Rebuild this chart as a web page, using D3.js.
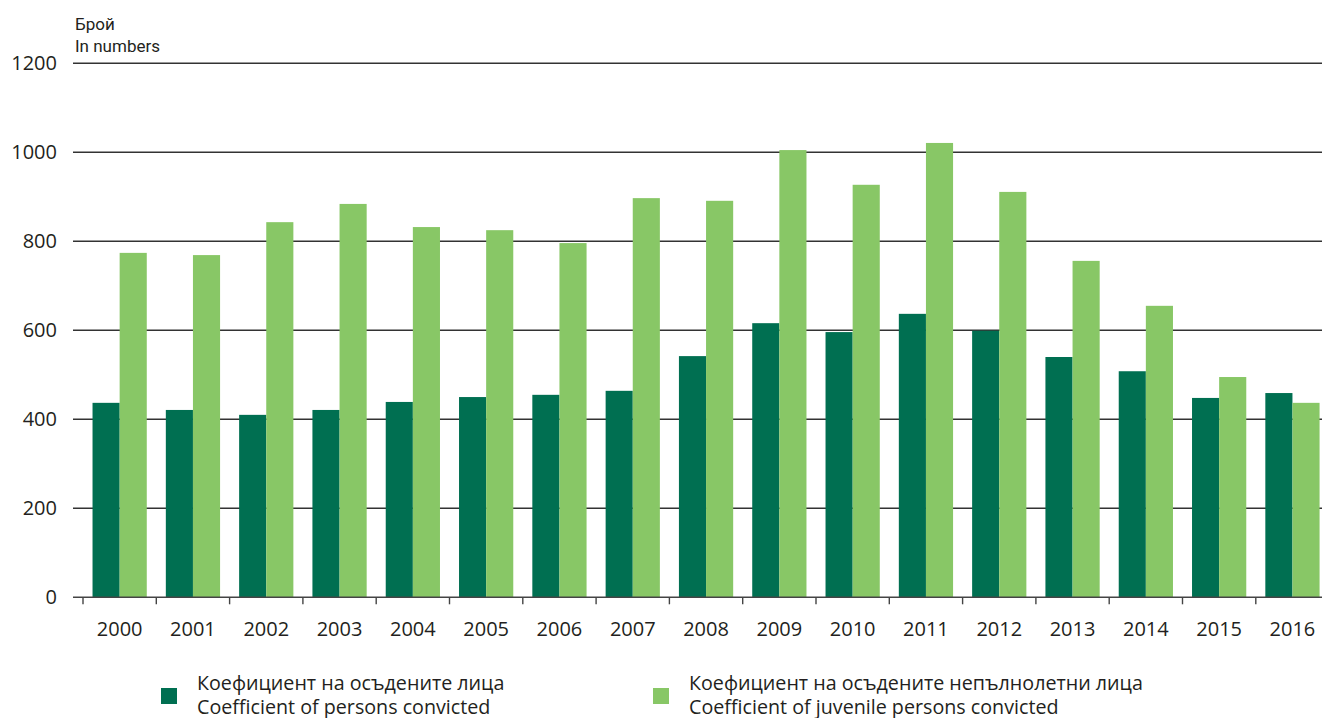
<!DOCTYPE html>
<html lang="bg">
<head>
  <meta charset="UTF-8">
  <title>Коефициент на осъдените лица</title>
  <style>
    body {
      margin: 0;
      background-color: white;
      font-family: "Open Sans", sans-serif;
    }

    .grid line {
      stroke: #333;
      stroke-width: 1.4;
    }

    .tick-label {
      font-size: 20px;
      fill: #231f20;
    }

    .unit {
      font-family: Roboto, sans-serif;
      font-size: 17px;
      fill: #231f20;
    }

    .legend-text {
      font-size: 19.7px;
      fill: #231f20;
    }
  </style>
</head>
<body>
  <svg id="chart" width="1322" height="718"></svg>

  <script src="https://d3js.org/d3.v7.min.js"></script>
  <script>
    var years = ["2000", "2001", "2002", "2003", "2004", "2005", "2006", "2007", "2008",
                 "2009", "2010", "2011", "2012", "2013", "2014", "2015", "2016"];
    var convicted = [437, 421, 410, 421, 439, 450, 455, 464, 542, 616, 596, 637, 599, 540, 508, 448, 459];
    var juvenile = [774, 769, 843, 884, 832, 825, 796, 897, 891, 1005, 927, 1021, 911, 756, 655, 495, 437];
    var yTicks = [0, 200, 400, 600, 800, 1000, 1200];
    var seriesNames = [
      ["Коефициент на осъдените лица", "Coefficient of persons convicted"],
      ["Коефициент на осъдените непълнолетни лица", "Coefficient of juvenile persons convicted"]
    ];
    var colors = ["#006f51", "#88c766"];

    var chart = d3.select("#chart");

    var left = 83, step = 73.3, axisLeft = 73;

    var x = d3.scaleBand()
      .domain(years)
      .range([left, left + step * years.length])
      .paddingInner(0.26)
      .paddingOuter(0.13);

    var inner = d3.scaleBand()
      .domain([0, 1])
      .range([0, x.bandwidth()]);

    var y = d3.scaleLinear()
      .domain([0, 1200])
      .range([597.3, 63.3]);

    // gridlines
    chart.append("g")
      .attr("class", "grid")
      .selectAll("line")
      .data(yTicks.filter(function(d) { return d > 0; }))
      .enter().append("line")
      .attr("x1", axisLeft)
      .attr("x2", 1322)
      .attr("y1", function(d) { return y(d); })
      .attr("y2", function(d) { return y(d); });

    // y labels
    chart.selectAll(".ylab")
      .data(yTicks)
      .enter().append("text")
      .attr("class", "tick-label ylab")
      .attr("x", 57)
      .attr("y", function(d) { return y(d) + 7; })
      .attr("text-anchor", "end")
      .text(function(d) { return d; });

    // bars
    var groups = chart.selectAll(".year")
      .data(years)
      .enter().append("g")
      .attr("class", "year")
      .attr("transform", function(d) { return "translate(" + x(d) + ",0)"; });

    groups.append("rect")
      .attr("x", inner(0))
      .attr("width", inner.bandwidth())
      .attr("y", function(d, i) { return y(convicted[i]); })
      .attr("height", function(d, i) { return y(0) - y(convicted[i]); })
      .attr("fill", colors[0]);

    groups.append("rect")
      .attr("x", inner(1))
      .attr("width", inner.bandwidth())
      .attr("y", function(d, i) { return y(juvenile[i]); })
      .attr("height", function(d, i) { return y(0) - y(juvenile[i]); })
      .attr("fill", colors[1]);

    // x axis line and boundary ticks
    chart.append("line")
      .attr("x1", axisLeft)
      .attr("x2", 1322)
      .attr("y1", y(0))
      .attr("y2", y(0))
      .attr("stroke", "#444")
      .attr("stroke-width", 1.4);

    chart.selectAll(".xtick")
      .data(years)
      .enter().append("line")
      .attr("class", "xtick")
      .attr("x1", function(d) { return x(d) - x.step() * 0.13; })
      .attr("x2", function(d) { return x(d) - x.step() * 0.13; })
      .attr("y1", y(0))
      .attr("y2", y(0) + 7)
      .attr("stroke", "#444")
      .attr("stroke-width", 1.4);

    chart.selectAll(".xlab")
      .data(years)
      .enter().append("text")
      .attr("class", "tick-label xlab")
      .attr("x", function(d) { return x(d) + x.bandwidth() / 2; })
      .attr("y", 636)
      .attr("text-anchor", "middle")
      .text(function(d) { return d; });

    // unit label
    chart.append("text")
      .attr("class", "unit")
      .attr("x", 75)
      .attr("y", 30)
      .text("Брой");
    chart.append("text")
      .attr("class", "unit")
      .attr("x", 75)
      .attr("y", 52)
      .text("In numbers");

    // legend
    var legendX = [161, 653];
    var legend = chart.selectAll(".legend")
      .data(seriesNames)
      .enter().append("g")
      .attr("class", "legend")
      .attr("transform", function(d, i) { return "translate(" + legendX[i] + ",0)"; });

    legend.append("rect")
      .attr("x", 0)
      .attr("y", 688)
      .attr("width", 16)
      .attr("height", 16)
      .attr("fill", function(d, i) { return colors[i]; });

    legend.append("text")
      .attr("class", "legend-text")
      .attr("x", 36)
      .attr("y", 690)
      .text(function(d) { return d[0]; });

    legend.append("text")
      .attr("class", "legend-text")
      .attr("x", 36)
      .attr("y", 714)
      .text(function(d) { return d[1]; });
  </script>
</body>
</html>
